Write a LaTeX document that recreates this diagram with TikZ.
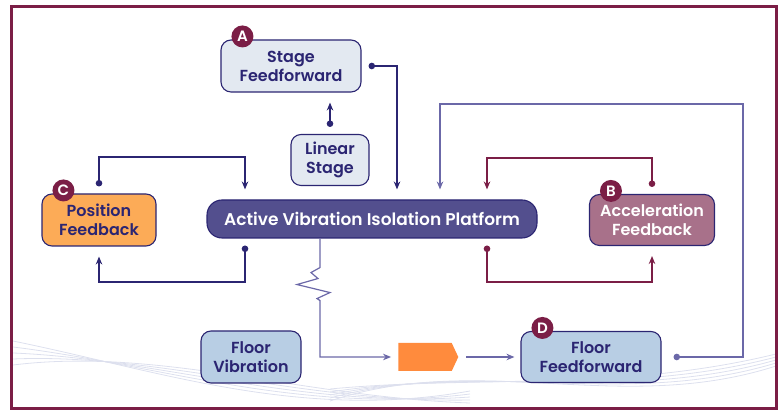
\documentclass[tikz,border=0pt]{standalone}
\usepackage{fontspec}
\setmainfont{Poppins}[BoldFont={Poppins SemiBold}]
\usepackage{tikz}
\usetikzlibrary{positioning}
\usetikzlibrary{arrows.meta,shapes.symbols}

\definecolor{navy}{HTML}{2B2572}
\definecolor{maroon}{HTML}{7B1E46}
\definecolor{lav}{HTML}{6B68A8}
\definecolor{wave}{HTML}{DDE0EE}
\definecolor{paleblue}{HTML}{E3E9F1}
\definecolor{skyblue}{HTML}{B8CEE4}
\definecolor{platform}{HTML}{534F8E}
\definecolor{orangebox}{HTML}{FCAB57}
\definecolor{mauve}{HTML}{A8718A}
\definecolor{orangetip}{HTML}{FF8B3D}

\begin{document}
\begin{tikzpicture}[x=1pt, y=1pt, font=\bfseries\fontsize{16}{19}\selectfont,
  box/.style={draw=navy, line width=1.1pt, rounded corners=10pt, align=center,
              text=navy, inner sep=0pt},
  badge/.style={circle, fill=maroon, text=white, minimum size=22pt, inner sep=0pt,
                font=\bfseries\fontsize{15}{15}\selectfont},
  link/.style={navy, line width=1.3pt},
  fb/.style={maroon, line width=1.3pt},
  ff/.style={lav, line width=1.2pt},
  dotarrow/.style={{Circle[length=6.5pt]}-{Stealth[length=8pt, width=6.5pt]},
                   shorten <=7pt, shorten >=10pt}]
  %\draw [help lines, dotted] (0,0) grid[step=50] (783,411);
  \useasboundingbox (0,0) rectangle (783,411);

  % background waves
  \foreach \s in {0,6,12,18,24} {
    \draw[wave, line width=0.8pt] (13,70-\s) .. controls (160,40+\s) and (300,-10+\s) .. (470,20-\s/2);
    \draw[wave, line width=0.8pt] (330,10+\s/2) .. controls (480,60-\s) and (620,-5+\s) .. (776,45+\s/2);
  }

  \node[box, fill=paleblue, minimum width=140pt, minimum height=52pt] (StageFF)  at (291,345) {Stage\\Feedforward};
  \node[box, fill=paleblue, minimum width=78pt,  minimum height=51pt] (LinStage) at (330,251) {Linear\\Stage};
  \node[box, fill=platform, text=white, rounded corners=15pt, font=\bfseries\fontsize{17}{19}\selectfont,
        minimum width=330pt, minimum height=38pt]                     (Platform) at (372,192) {Active Vibration Isolation Platform};
  \node[box, fill=orangebox, minimum width=114pt, minimum height=52pt] (PosFb)   at (99,191)  {Position\\Feedback};
  \node[box, fill=mauve, text=white, minimum width=125pt, minimum height=51pt] (AccFb) at (652,191) {Acceleration\\Feedback};
  \node[box, fill=skyblue, minimum width=100pt, minimum height=52pt]  (FloorVib) at (251,54)  {Floor\\Vibration};
  \node[box, fill=skyblue, minimum width=140pt, minimum height=51pt]  (FloorFF)  at (591,54)  {Floor\\Feedforward};
  \node[signal, signal to=east, signal pointer angle=130, fill=orangetip,
        minimum width=60pt, minimum height=28pt, inner sep=0pt]       (FloorIn)  at (425,54)  {};

  \foreach \b/\l in {StageFF/A, AccFb/B, PosFb/C, FloorFF/D}
    \node[badge] (Badge\l) at ([xshift=22pt, yshift=3pt]\b.north west) {\l};

  % stage feedforward
  \draw[link, dotarrow] (LinStage.north) -- (LinStage.north |- StageFF.south);
  \draw[link, dotarrow] (StageFF.east) -| ([xshift=25pt]Platform.north);

  % position feedback
  \coordinate (PosTop) at (245,254);
  \coordinate (PosBot) at (245,129);
  \draw[link, dotarrow] (PosFb.north) |- (PosTop) -- ([xshift=-127pt]Platform.north);
  \draw[link, dotarrow] ([xshift=-127pt]Platform.south) -- (PosBot) -| (PosFb.south);

  % acceleration feedback
  \coordinate (AccTop) at (487,253);
  \coordinate (AccBot) at (487,129);
  \draw[fb, dotarrow] (AccFb.north) |- (AccTop) -- ([xshift=115pt]Platform.north);
  \draw[fb, dotarrow] ([xshift=115pt]Platform.south) -- (AccBot) -| (AccFb.south);

  % floor feedforward
  \coordinate (FFCorner) at (743,307);
  \draw[ff, dotarrow, shorten <=12pt] (FloorFF.east) -| (FFCorner) -| ([xshift=68pt]Platform.north);
  \draw[ff, -{Stealth[length=8pt, width=6.5pt]}, shorten <=8pt, shorten >=6pt] (FloorIn) -- (FloorFF);

  % spring
  \draw[ff, -{Stealth[length=8pt, width=6.5pt]}, shorten >=7pt]
    ([xshift=-52pt]Platform.south) -- ++(0,-29) -- ++(-9,-5) -- ++(7,-6) -- ++(-21,-6)
    -- ++(33,-8) -- ++(-13,-6) -- ++(3,-2) |- (FloorIn.west);

  % frame
  \draw[maroon, line width=3pt] (11.5,2.5) rectangle (776.5,404.5);
\end{tikzpicture}
\end{document}
